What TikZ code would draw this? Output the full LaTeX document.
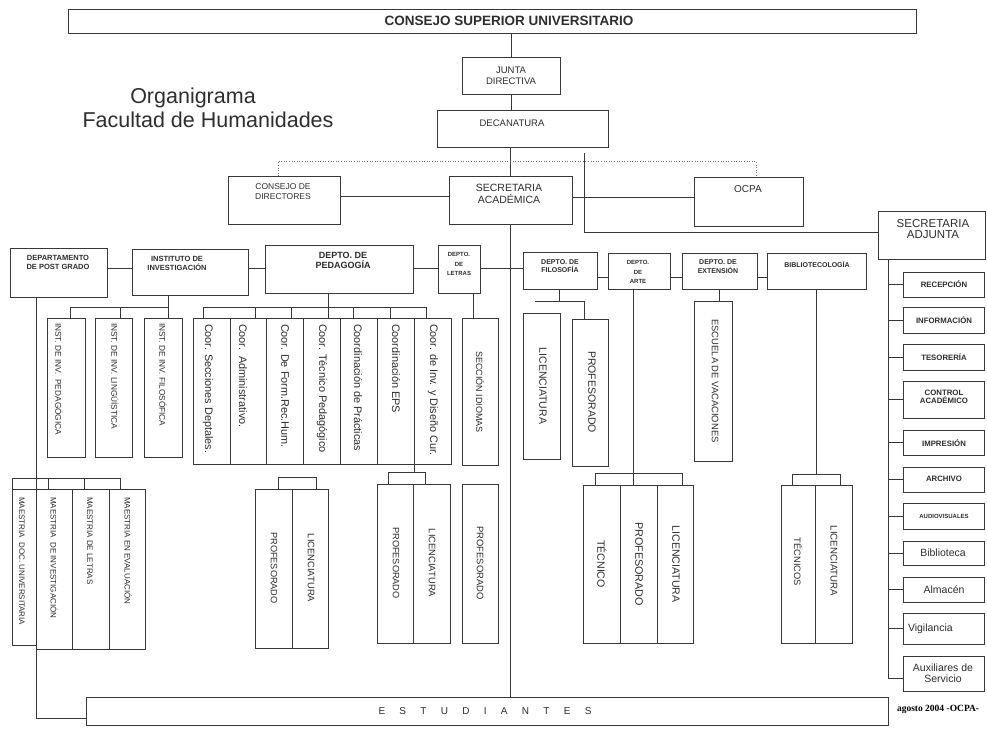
\documentclass[tikz,border=0pt]{standalone}
\usepackage{fontspec}
\setmainfont{Liberation Sans}
\newfontfamily\timesb{Liberation Serif}
\usetikzlibrary{fit}
\newcommand\fz[2]{\fontsize{#1}{#2}\selectfont}
\newcommand\bx[5]{\node[box, fit={(#2,#3) (#4,#5)}] (#1) {};}
\newcommand\spc{\hspace{14.3pt}}
\tikzset{
  ink/.style={draw=black!78, line width=0.85pt},
  box/.style={ink, rectangle, inner sep=0pt, outer sep=0pt},
  conn/.style={ink},
  dotline/.style={draw=black!55, line width=0.6pt, dotted},
  lab/.style={text=black!82, align=center, inner sep=0pt, outer sep=0pt},
  vt/.style={lab, rotate=-90, anchor=west},
  vc/.style={lab, rotate=-90},
}
\begin{document}
\begin{tikzpicture}[x=1pt,y=-1pt]
\useasboundingbox (0,0) rectangle (987,728);
\fill[white] (0,0) rectangle (987,728);

% ---------- boxes ----------
\bx{csu}{68}{9}{916}{33}
\bx{junta}{462}{57}{560}{94}
\bx{dec}{437}{110}{608}{147}
\bx{cdir}{228}{176}{340}{224}
\bx{secac}{449}{176}{572}{224}
\bx{ocpa}{694}{177}{803}{226}
\bx{secadj}{878}{211}{985}{259}
\bx{postg}{10}{248}{107}{297}
\bx{inst}{132}{249}{248}{295}
\bx{ped}{265}{245}{413}{293}
\bx{let}{438}{245}{480}{293}
\bx{fil}{523}{252}{597}{289}
\bx{arte}{608}{253}{670}{289}
\bx{ext}{682}{253}{757}{289}
\bx{bib}{767}{253}{866}{289}
\bx{ip}{47}{318}{85}{457}
\bx{il}{95}{318}{132}{457}
\bx{if}{144}{318}{182}{457}
\bx{c1}{193}{318}{230}{464}
\bx{c2}{230}{318}{266}{464}
\bx{c3}{266}{318}{303}{464}
\bx{c4}{303}{318}{340}{464}
\bx{c5}{340}{318}{377}{464}
\bx{c6}{377}{318}{414}{464}
\bx{c7}{414}{318}{451}{464}
\bx{sid}{462}{318}{498}{465}
\bx{fl}{523}{313}{560}{459}
\bx{fp}{572}{319}{608}{466}
\bx{esc}{694}{301}{732}{461}
\bx{m1}{12}{489}{36}{645}
\bx{m2}{36}{489}{72}{649}
\bx{m3}{72}{489}{109}{649}
\bx{m4}{109}{489}{145}{649}
\bx{pp}{255}{489}{292}{648}
\bx{pl}{292}{489}{328}{648}
\bx{ep}{377}{484}{413}{643}
\bx{el}{413}{484}{450}{643}
\bx{lp}{462}{484}{498}{643}
\bx{at}{583}{485}{620}{643}
\bx{ap}{620}{485}{657}{643}
\bx{al}{657}{485}{693}{643}
\bx{bt}{781}{485}{815}{643}
\bx{bl}{815}{485}{852}{643}
\bx{r1}{903}{272}{984}{297}
\bx{r2}{903}{307}{984}{333}
\bx{r3}{903}{344}{984}{370}
\bx{r4}{903}{381}{984}{418}
\bx{r5}{903}{430}{984}{455}
\bx{r6}{903}{467}{984}{492}
\bx{r7}{903}{503}{984}{529}
\bx{r8}{903}{541}{984}{565}
\bx{r9}{903}{577}{984}{602}
\bx{r10}{903}{613}{984}{644}
\bx{r11}{903}{656}{984}{691}
\bx{est}{86}{697}{888}{725}

% ---------- texts ----------
\node[lab, font=\fz{21.5}{26}, anchor=base] (t1) at (193,103) {Organigrama};
\node[lab, font=\fz{21.5}{26}, anchor=base] (t2) at (208,127) {Facultad de Humanidades};
\node[lab, font=\fz{13.5}{15}\bfseries] (csuT) at (509,21) {CONSEJO SUPERIOR UNIVERSITARIO};
\node[lab, font=\fz{9.5}{11.5}] (juntaT) at (511,76) {JUNTA\\DIRECTIVA};
\node[lab, font=\fz{9.5}{11.5}] (decT) at (512,123) {DECANATURA};
\node[lab, font=\fz{8.5}{10}] (cdirT) at (283,192) {CONSEJO DE\\DIRECTORES};
\node[lab, font=\fz{10.5}{12}] (secacT) at (509,194) {SECRETARIA\\ACADÉMICA};
\node[lab, font=\fz{10}{12}] (ocpaT) at (748,189) {OCPA};
\node[lab, font=\fz{11.5}{11.5}] (secadjT) at (933,229) {SECRETARIA\\ADJUNTA};
\node[lab, font=\fz{7.5}{9}\bfseries] (postgT) at (58,262) {DEPARTAMENTO\\DE POST GRADO};
\node[lab, font=\fz{7.5}{9}\bfseries] (instT) at (177,263) {INSTITUTO DE\\INVESTIGACIÓN};
\node[lab, font=\fz{9}{10}\bfseries] (pedT) at (343,260) {DEPTO. DE\\PEDAGOGÍA};
\node[lab, font=\fz{6}{9.5}\bfseries] (letT) at (459,264) {DEPTO.\\DE\\LETRAS};
\node[lab, font=\fz{7}{8.5}\bfseries] (filT) at (560,266) {DEPTO. DE\\FILOSOFÍA};
\node[lab, font=\fz{6}{9.5}\bfseries] (arteT) at (638,272) {DEPTO.\\DE\\ARTE};
\node[lab, font=\fz{7}{9}\bfseries] (extT) at (718,267) {DEPTO. DE\\EXTENSIÓN};
\node[lab, font=\fz{7}{9}\bfseries] (bibT) at (817,264) {BIBLIOTECOLOGÍA};

% rotated, starting at top
\node[vt, font=\fz{8.3}{9}] (ipT) at (59,323) {INST. DE INV.\ \ PEDAGÓGICA};
\node[vt, font=\fz{8.3}{9}] (ilT) at (115,323) {INST. DE INV. LINGÜÍSTICA};
\node[vt, font=\fz{8.3}{9}] (ifT) at (163,323) {INST. DE INV. FILOSÓFICA};
\node[vt, font=\fz{10.9}{12}] (c1T) at (208,324) {Coor. Secciones Deptales.};
\node[vt, font=\fz{10.9}{12}] (c2T) at (243,324) {Coor.\ \ Administrativo.};
\node[vt, font=\fz{10.9}{12}] (c3T) at (285,324) {Coor. De Form.Rec.Hum.};
\node[vt, font=\fz{10.9}{12}] (c4T) at (322,324) {Coor. Técnico Pedagógico};
\node[vt, font=\fz{10.9}{12}] (c5T) at (358,324) {Coordinación de Prácticas};
\node[vt, font=\fz{10.9}{12}] (c6T) at (396,324) {Coordinación EPS};
\node[vt, font=\fz{10.9}{12}] (c7T) at (433,324) {Coor. de Inv. y Diseño Cur.};
\node[vt, font=\fz{8}{9}] (m1T) at (22,497) {MAESTRIA\ \ DOC. UNIVERSITARIA};
\node[vt, font=\fz{8}{9}] (m2T) at (54,497) {MAESTRIA\ \ DE INVESTIGACIÓN};
\node[vt, font=\fz{8}{9}] (m3T) at (90,497) {MAESTRIA DE LETRAS};
\node[vt, font=\fz{8}{9}] (m4T) at (128,497) {MAESTRIA EN EVALUACIÓN};

% rotated, centred
\node[vc, font=\fz{9}{10}] (sidT) at (480,392) {SECCIÓN IDIOMAS};
\node[vc, font=\fz{10.5}{12}] (flT) at (543,386) {LICENCIATURA};
\node[vc, font=\fz{10.5}{12}] (fpT) at (592,392) {PROFESORADO};
\node[vc, font=\fz{9.4}{11}] (escT) at (715,381) {ESCUELA DE VACACIONES};
\node[vc, font=\fz{9.2}{11}] (ppT) at (274,568) {PROFESORADO};
\node[vc, font=\fz{9.4}{11}] (plT) at (311,568) {LICENCIATURA};
\node[vc, font=\fz{9.2}{11}] (epT) at (396,563) {PROFESORADO};
\node[vc, font=\fz{9.4}{11}] (elT) at (432,563) {LICENCIATURA};
\node[vc, font=\fz{9.4}{11}] (lpT) at (480,563) {PROFESORADO};
\node[vc, font=\fz{10.6}{12}] (atT) at (602,564) {TÉCNICO};
\node[vc, font=\fz{10.8}{12}] (apT) at (639,564) {PROFESORADO};
\node[vc, font=\fz{10.6}{12}] (alT) at (676,564) {LICENCIATURA};
\node[vc, font=\fz{9.3}{11}] (btT) at (798,562) {TÉCNICOS};
\node[vc, font=\fz{9.7}{11}] (blT) at (834,561) {LICENCIATURA};

% right column
\node[lab, font=\fz{7.8}{9}\bfseries] (r1T) at (944,284) {RECEPCIÓN};
\node[lab, font=\fz{7.8}{9}\bfseries] (r2T) at (944,320) {INFORMACIÓN};
\node[lab, font=\fz{7.8}{9}\bfseries] (r3T) at (944,357) {TESORERÍA};
\node[lab, font=\fz{7.8}{8.5}\bfseries] (r4T) at (944,397) {CONTROL\\ACADÉMICO};
\node[lab, font=\fz{7.8}{9}\bfseries] (r5T) at (944,443) {IMPRESIÓN};
\node[lab, font=\fz{7.8}{9}\bfseries] (r6T) at (944,479) {ARCHIVO};
\node[lab, font=\fz{6}{7}\bfseries] (r7T) at (944,516) {AUDIOVISUALES};
\node[lab, font=\fz{10.5}{12}] (r8T) at (943,553) {Biblioteca};
\node[lab, font=\fz{10.5}{12}] (r9T) at (944,590) {Almacén};
\node[lab, font=\fz{10.5}{12}, anchor=west] (r10T) at (908,629) {Vigilancia};
\node[lab, font=\fz{10.5}{11.5}] (r11T) at (943,673) {Auxiliares de\\Servicio};

\node[lab, font=\fz{10}{12}] (estT) at (485,711) {E\spc S\spc T\spc U\spc D\spc I\spc A\spc N\spc T\spc E\spc S};
\node[lab, font=\timesb\fz{9.5}{11}\bfseries, anchor=base west, text=black] (dateT) at (897,711) {agosto 2004 -OCPA-};

% ---------- connectors ----------
\draw[conn] (csu.south -| junta.north) -- (junta.north);
\draw[conn] (junta.south) -- (junta.south |- dec.north);
\draw[conn] (secac.north |- dec.south) -- (secac.north);
\coordinate (dl) at (278,161);
\coordinate (dr) at (756,161);
\draw[dotline] (dl |- cdir.north) -- (dl) -- (dr) -- (dr |- ocpa.north);
\coordinate (cy) at (0,196);
\draw[conn] (cdir.east |- cy) -- (secac.west |- cy);
\coordinate (oy) at (0,197);
\draw[conn] (secac.east |- oy) -- (ocpa.west |- oy);
\coordinate (ja) at (584,153);
\coordinate (jb) at (584,232);
\draw[conn] (ja) -- (jb) -- (jb -| secadj.west);
\draw[conn] (secac.south) -- (secac.south |- est.north);

% second row
\coordinate (rowa) at (0,268);
\draw[conn] (postg.east |- rowa) -- (inst.west |- rowa);
\draw[conn] (inst.east |- rowa) -- (ped.west |- rowa);
\draw[conn] (ped.east |- rowa) -- (let.west |- rowa);
\draw[conn] (let.east |- rowa) -- (fil.west |- rowa);
\coordinate (rowb) at (0,277);
\draw[conn] (fil.east |- rowb) -- (arte.west |- rowb);
\draw[conn] (arte.east |- rowb) -- (ext.west |- rowb);
\draw[conn] (ext.east |- rowb) -- (bib.west |- rowb);

% instituto
\coordinate (iA) at (70,307);
\coordinate (iB) at (120,307);
\coordinate (iC) at (168,307);
\draw[conn] (iC |- inst.south) -- (iC) -- (iA) -- (iA |- ip.north);
\draw[conn] (iB) -- (iB |- il.north);
\draw[conn] (iC) -- (iC |- if.north);

% pedagogia
\coordinate (pS) at (328,307);
\coordinate (pA) at (203,307);
\coordinate (pZ) at (426,307);
\draw[conn] (pS |- ped.south) -- (pS);
\draw[conn] (pA) -- (pZ);
\foreach \xx/\bb in {203/c1,255/c2,291/c3,328/c4,353/c5,390/c6,426/c7}{
  \coordinate (dd) at (\xx,307);
  \draw[conn] (dd) -- (dd |- \bb.north);
}
\coordinate (eb) at (414,472);
\coordinate (eb1) at (388,472);
\coordinate (eb2) at (425,472);
\draw[conn] (eb |- c7.south) -- (eb);
\draw[conn] (eb1 |- ep.north) -- (eb1) -- (eb2) -- (eb2 |- el.north);
\coordinate (pb1) at (278,477);
\coordinate (pb2) at (316,477);
\draw[conn] (pb1 |- pp.north) -- (pb1) -- (pb2) -- (pb2 |- pl.north);

% letras
\coordinate (lx) at (473,0);
\draw[conn] (lx |- let.south) -- (lx |- sid.north);

% filosofia
\coordinate (fS) at (559,301);
\coordinate (fA) at (535,301);
\coordinate (fB) at (584,301);
\draw[conn] (fS |- fil.south) -- (fS);
\draw[conn] (fA) -- (fB) -- (fB |- fp.north);

% extension
\coordinate (ex) at (719,0);
\draw[conn] (ex |- ext.south) -- (ex |- esc.north);

% arte
\coordinate (aS) at (633,473);
\coordinate (aA) at (595,473);
\coordinate (aC) at (682,473);
\draw[conn] (aS |- arte.south) -- (aS |- ap.north);
\draw[conn] (aA |- at.north) -- (aA) -- (aC) -- (aC |- al.north);

% bibliotecologia
\coordinate (bS) at (816,474);
\coordinate (bA) at (792,474);
\coordinate (bC) at (840,474);
\draw[conn] (bS |- bib.south) -- (bS);
\draw[conn] (bA |- bt.north) -- (bA) -- (bC) -- (bC |- bl.north);

% post grado
\coordinate (pv) at (36,718);
\draw[conn] (pv |- postg.south) -- (pv) -- (pv -| est.west);
\coordinate (mA) at (12,478);
\coordinate (mD) at (120,478);
\draw[conn] (mA |- m1.north) -- (mA) -- (mD) -- (mD |- m4.north);
\foreach \xx/\bb in {48/m2,84/m3}{
  \coordinate (dd) at (\xx,478);
  \draw[conn] (dd) -- (dd |- \bb.north);
}

% secretaria adjunta column
\coordinate (rc) at (888,0);
\coordinate (rend) at (888,678);
\draw[conn] (rc |- secadj.south) -- (rend) -- (rend -| r11.west);
\foreach \bb in {r1,r2,r3,r4,r5,r6,r7,r8,r9,r10}{
  \draw[conn] (rc |- \bb.west) -- (\bb.west);
}
\end{tikzpicture}
\end{document}
